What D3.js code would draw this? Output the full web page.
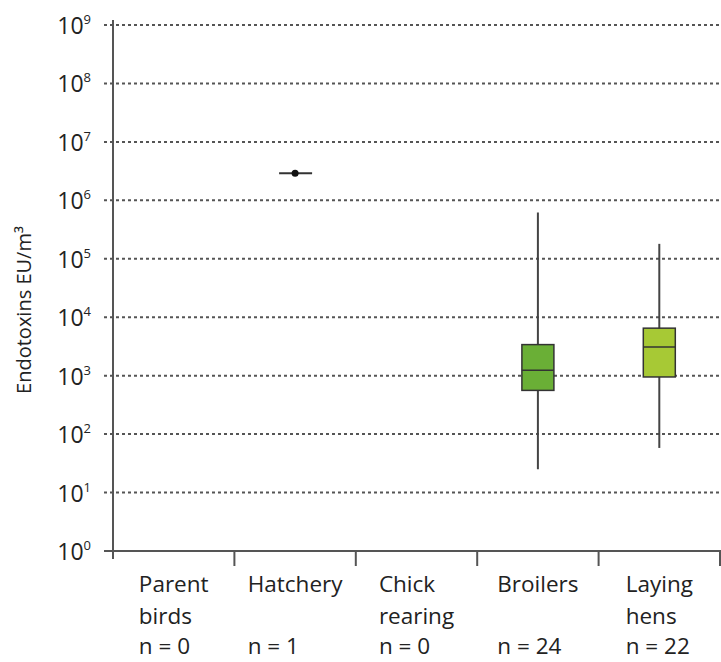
<!DOCTYPE html>
<html>
<head>
<meta charset="utf-8">
<script src="https://cdn.jsdelivr.net/npm/d3@7"></script>
<style>
  html, body { margin: 0; padding: 0; background: #fff; }
  svg { display: block; font-family: "Open Sans", "Noto Sans", sans-serif; }
</style>
</head>
<body>
<svg id="chart" width="721" height="662"></svg>
<script>
// ---- data ----
const categories = ["Parent birds", "Hatchery", "Chick rearing", "Broilers", "Laying hens"];
const labelLines = [["Parent", "birds"], ["Hatchery"], ["Chick", "rearing"], ["Broilers"], ["Laying", "hens"]];
const nCounts = [0, 1, 0, 24, 22];
const whiskerLow  = [null, null, null, 25, 58];
const q1          = [null, null, null, 560, 950];
const median      = [null, 2.9e6, null, 1240, 3100];
const q3          = [null, null, null, 3400, 6500];
const whiskerHigh = [null, null, null, 620000, 180000];
const boxColors   = [null, null, null, "#6aaf36", "#a7c935"];
const tickExponents = [0, 1, 2, 3, 4, 5, 6, 7, 8, 9];

// ---- layout ----
const svg = d3.select("#chart");
const axisColor = "#555";

const x = d3.scaleBand().domain(categories).range([113, 720]).padding(0);
const y = d3.scaleLog().domain([1, 1e9]).range([551, 25]);

// gridlines
svg.append("g").selectAll("line").data(tickExponents.filter(e => e > 0)).join("line")
  .attr("x1", 104).attr("x2", 721)
  .attr("y1", e => y(Math.pow(10, e))).attr("y2", e => y(Math.pow(10, e)))
  .attr("stroke", "#555").attr("stroke-width", 2).attr("stroke-dasharray", "3,3");

// y tick labels
const yl = svg.append("g").selectAll("text").data(tickExponents).join("text")
  .attr("x", 91).attr("y", e => y(Math.pow(10, e)) + 9)
  .attr("text-anchor", "end").attr("fill", "#222").attr("font-size", 23);
yl.append("tspan").text("10");
yl.append("tspan").attr("dy", -10).attr("font-size", 13).text(e => e);

// y axis line
svg.append("line").attr("x1", 113).attr("x2", 113).attr("y1", 20).attr("y2", 559)
  .attr("stroke", axisColor).attr("stroke-width", 2);
// x axis line
svg.append("line").attr("x1", 104).attr("x2", 721).attr("y1", y(1)).attr("y2", y(1))
  .attr("stroke", axisColor).attr("stroke-width", 2);
// x ticks at band boundaries
svg.append("g").selectAll("line").data(categories).join("line")
  .attr("x1", d => x(d) + x.bandwidth()).attr("x2", d => x(d) + x.bandwidth())
  .attr("y1", y(1)).attr("y2", y(1) + 15)
  .attr("stroke", axisColor).attr("stroke-width", 2);

// y axis title
svg.append("text")
  .attr("transform", "translate(31," + 310 + ") rotate(-90)")
  .attr("text-anchor", "middle").attr("font-size", 20).attr("fill", "#222")
  .text("Endotoxins EU/m³");

// boxplots
const boxW = 32;
categories.forEach((c, i) => {
  const cx = x(c) + x.bandwidth() / 2;
  const g = svg.append("g");
  if (q1[i] != null) {
    g.append("line").attr("x1", cx).attr("x2", cx)
      .attr("y1", y(whiskerLow[i])).attr("y2", y(whiskerHigh[i]))
      .attr("stroke", "#444").attr("stroke-width", 2);
    g.append("rect").attr("x", cx - boxW / 2).attr("width", boxW)
      .attr("y", y(q3[i])).attr("height", y(q1[i]) - y(q3[i]))
      .attr("fill", boxColors[i]).attr("stroke", "#333").attr("stroke-width", 1.5);
    g.append("line").attr("x1", cx - boxW / 2).attr("x2", cx + boxW / 2)
      .attr("y1", y(median[i])).attr("y2", y(median[i]))
      .attr("stroke", "#333").attr("stroke-width", 1.5);
  } else if (median[i] != null) {
    g.append("line").attr("x1", cx - 16).attr("x2", cx + 17)
      .attr("y1", y(median[i])).attr("y2", y(median[i]))
      .attr("stroke", "#333").attr("stroke-width", 2);
    g.append("circle").attr("cx", cx).attr("cy", y(median[i])).attr("r", 3.5).attr("fill", "#111");
  }
});

// category labels
categories.forEach((c, i) => {
  const cx = x(c) + x.bandwidth() / 2;
  const g = svg.append("g");
  const lines = labelLines[i];
  lines.forEach((t, j) => {
    g.append("text").attr("y", 592 + j * 32).attr("font-size", 22.5).attr("fill", "#222").text(t);
  });
  g.append("text").attr("y", 654).attr("font-size", 22.5).attr("fill", "#222").text("n = " + nCounts[i]);
  let w = 0;
  g.selectAll("text").each(function () { w = Math.max(w, this.getComputedTextLength()); });
  g.selectAll("text").attr("x", cx - w / 2);
});
</script>
</body>
</html>
